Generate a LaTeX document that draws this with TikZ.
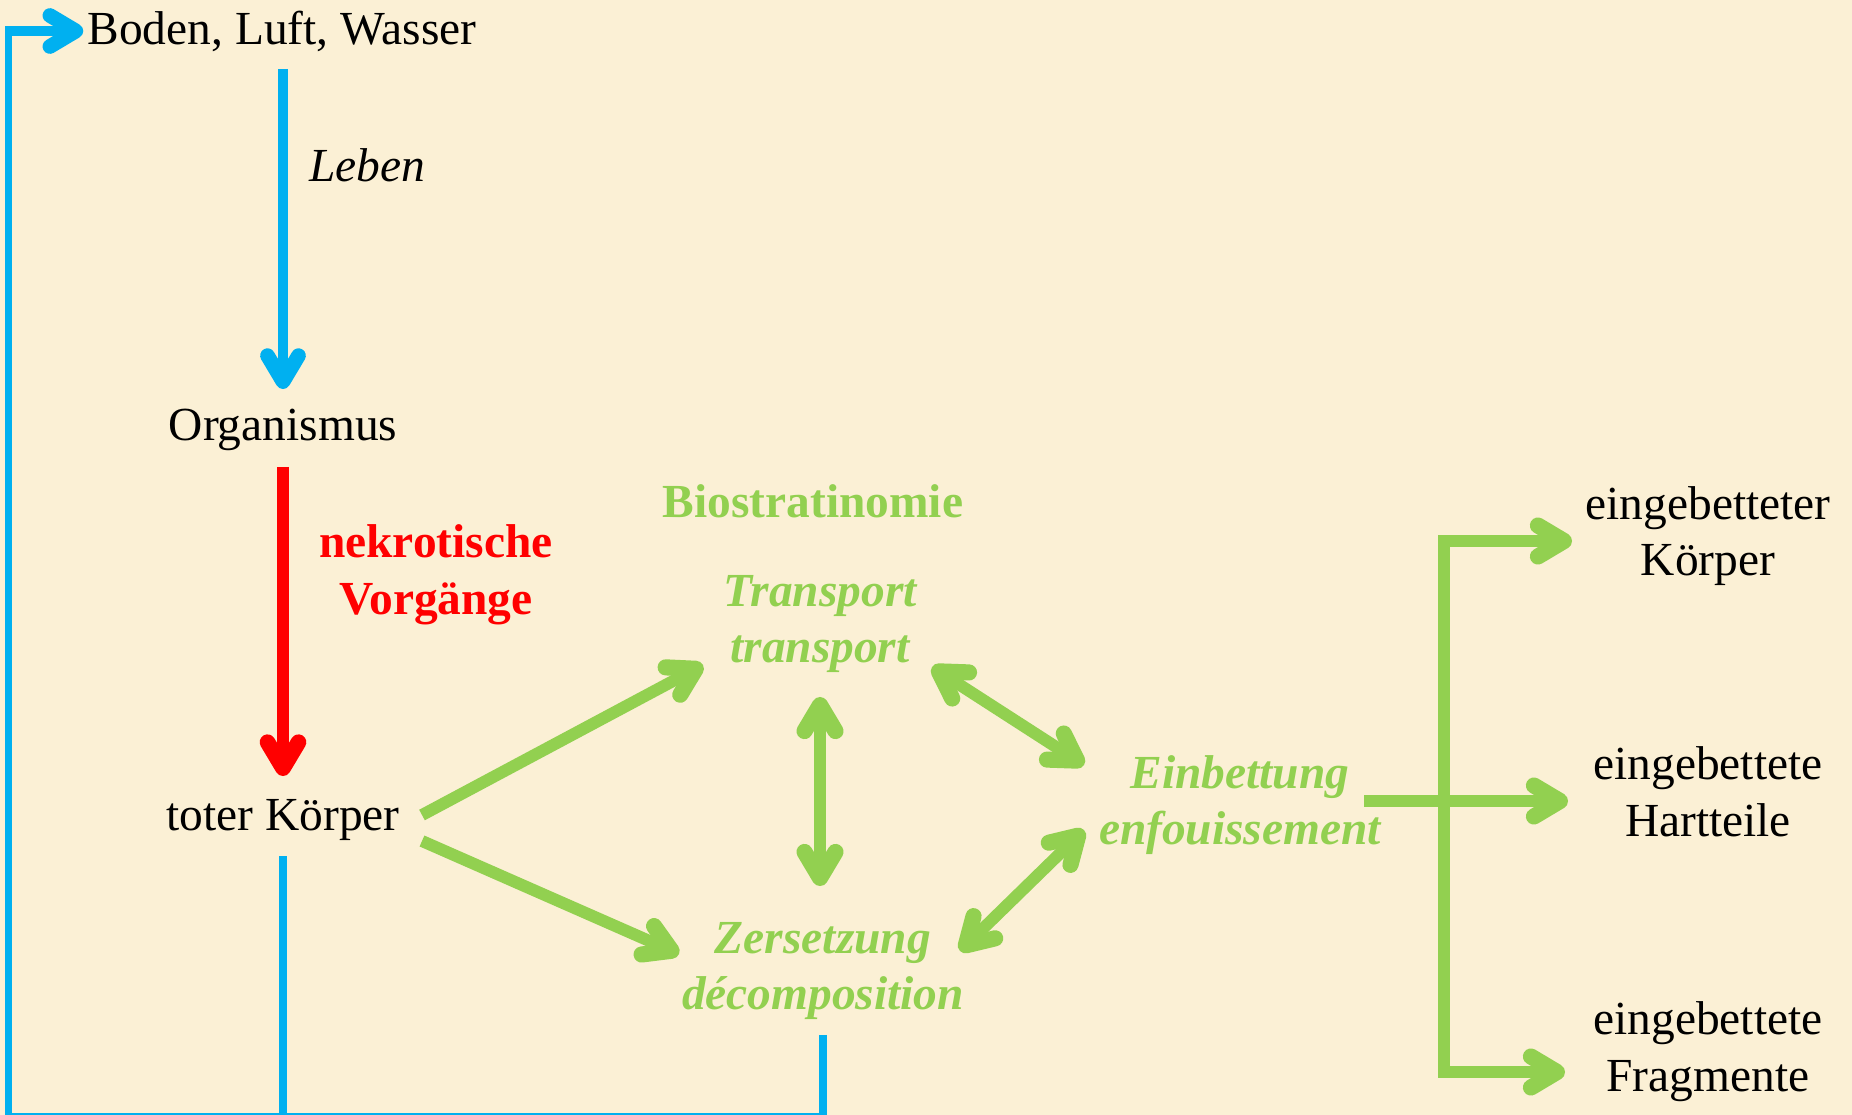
\documentclass[tikz,border=0pt]{standalone}
\usepackage{fontspec}
\setmainfont{Liberation Serif}
\usetikzlibrary{arrows.meta}
\definecolor{parch}{HTML}{FBF0D5}
\definecolor{grn}{HTML}{92D050}
\definecolor{blu}{HTML}{00B0F0}
\definecolor{rd}{HTML}{FF0000}
\tikzset{
  fatbarb/.tip={Straight Barb[round, line width=0pt 1.35, length=0.52cm, width=0.62cm]},
  txt/.style={inner sep=0pt, align=center, font=\fontsize{27}{32.3}\selectfont},
  redtxt/.style={txt, text=rd, font=\fontsize{27}{32.3}\selectfont\bfseries},
  gbold/.style={txt, text=grn, font=\fontsize{27}{32.3}\selectfont\bfseries},
  gtxt/.style={txt, text=grn, font=\fontsize{27}{32.3}\selectfont\bfseries\itshape},
  bluline/.style={blu, line width=4pt},
  bluarr/.style={blu, line width=6.2pt, -fatbarb},
  redarr/.style={rd, line width=6.6pt, -fatbarb},
  garr/.style={grn, line width=6.8pt, -fatbarb},
  garrs/.style={grn, line width=6.8pt, fatbarb-fatbarb}
}
\begin{document}
\begin{tikzpicture}[x=0.02cm, y=-0.02cm]
	\fill[parch] (0,0) rectangle (1852,1115);
	\useasboundingbox (0,0) rectangle (1852,1115);

	% life cycle
	\node[txt] (boden) at (282,31) {Boden, Luft, Wasser};
	\node[txt] (organ) at (283,430) {Organismus};
	\node[txt] (toter) at (283,820) {toter Körper};
	\node[txt, font=\fontsize{27}{32.3}\selectfont\itshape] (leben) at (367,165) {Leben};
	\node[redtxt] (nekro) at (436,575) {nekrotische\\Vorgänge};

	% biostratinomy
	\node[gbold] (bio) at (813,501) {Biostratinomie};
	\node[gtxt] (trans) at (820,624) {Transport\\transport};
	\node[gtxt] (zers) at (823,971) {Zersetzung\\décomposition};
	\node[gtxt] (einb) at (1240,805) {Einbettung\\enfouissement};

	\node[txt] (k1) at (1708,536) {eingebetteter\\Körper};
	\node[txt] (k2) at (1708,792) {eingebettete\\Hartteile};
	\node[txt] (k3) at (1708,1052) {eingebettete\\Fragmente};

	\draw[bluarr, shorten <=0.76cm, shorten >=0.82cm] (organ.center |- boden.center) -- (organ.center);
	\draw[redarr, shorten <=0.74cm, shorten >=0.88cm] (organ.center) -- (toter.center);

	% back to the soil
	\coordinate (corner) at (8.5,1117);
	\coordinate (ctop) at (8.5,26);
	\draw[bluline, shorten <=0.72cm] (toter.center) -- (toter.center |- corner);
	\draw[bluline, shorten <=1.28cm] (zers.center) |- (corner) -- (ctop);
	\draw[bluarr, shorten >=0.08cm] (ctop |- boden.west) -- (boden.west);

	\draw[garr] ([shift={(139,-5)}]toter.center) -- ([shift={(-117,41)}]trans.center);
	\draw[garr] ([shift={(139,21)}]toter.center) -- ([shift={(-144,-17)}]zers.center);
	\draw[garrs, shorten <=1.46cm, shorten >=1.7cm] (trans.center) -- (trans.center |- zers.center);
	\draw[garrs] ([shift={(112,43)}]trans.center) -- ([shift={(-156,-40)}]einb.center);
	\draw[garrs] ([shift={(137,-20)}]zers.center) -- ([shift={(-156,25)}]einb.center);

	\coordinate (fork) at (1444,801);
	\draw[garr] ([shift={(124,-4)}]einb.center) -- ([shift={(-140,9)}]k2.center);
	\draw[garrs] ([shift={(-136,5)}]k1.center) -| (fork) |- ([shift={(-143,20)}]k3.center);
\end{tikzpicture}
\end{document}
